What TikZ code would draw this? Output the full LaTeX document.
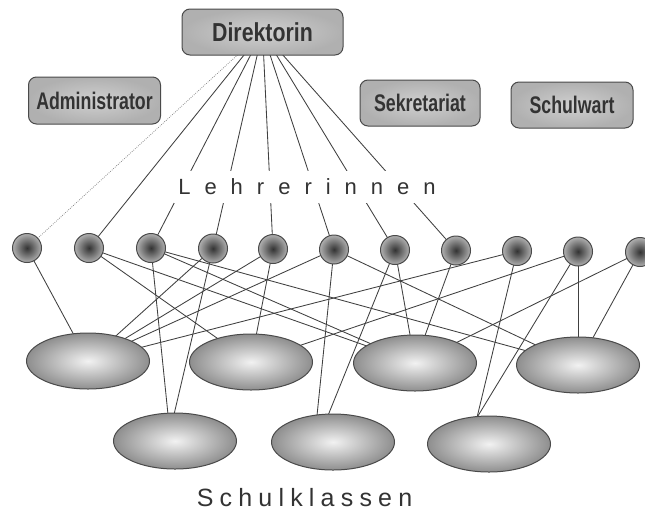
\documentclass[tikz,border=0pt]{standalone}
\usepackage{fontspec}
\usepackage{graphicx}
\setmainfont{Liberation Sans}
\usetikzlibrary{backgrounds,calc,shapes.geometric}
\definecolor{ink}{HTML}{333333}
\definecolor{edgecol}{HTML}{404040}
\definecolor{rim}{HTML}{4A4A4A}
\definecolor{boxin}{HTML}{D0D0D0}
\definecolor{boxout}{HTML}{B0B0B0}
\definecolor{circin}{HTML}{333333}
\definecolor{circout}{HTML}{B0B0B0}
\definecolor{ellin}{HTML}{F2F2F2}
\definecolor{ellout}{HTML}{8E8E8E}
\newcommand{\ls}{\hspace{14pt}}
\newcommand{\lt}{\hspace{6.2pt}}
\begin{document}
\begin{tikzpicture}[x=1pt,y=-1pt,
  box/.style={draw=rim, line width=1pt, rounded corners=8pt, inner color=boxin, outer color=boxout,
    minimum width=131pt, minimum height=46pt, inner sep=0pt, text=ink,
    font=\bfseries\fontsize{24}{24}\selectfont},
  bigbox/.style={box, minimum width=161pt, font=\bfseries\fontsize{26}{26}\selectfont},
  teacher/.style={circle, draw=rim, line width=1pt, minimum size=29pt, inner sep=0pt,
    inner color=circin, outer color=circout},
  klass/.style={ellipse, draw=rim, line width=1pt, minimum width=123pt, minimum height=56pt,
    inner sep=0pt, inner color=ellin, outer color=ellout},
  link/.style={draw=edgecol, line width=0.85pt},
  dotlink/.style={draw=gray, line width=0.7pt, dash pattern=on 0.8pt off 1.3pt},
  caption/.style={text=ink, font=\fontsize{22}{22}\selectfont}
]
\useasboundingbox (0,0) rectangle (645,512);

% boxes
\node[bigbox] (dir) at (262.5,32) {\scalebox{0.82}[1]{Direktorin}};
\node[box, minimum width=132pt, minimum height=47pt] (adm) at (94.5,100.5) {\scalebox{0.74}[1]{Administrator}};
\node[box, minimum width=120pt] (sek) at (420,103) {\scalebox{0.74}[1]{Sekretariat}};
\node[box, minimum width=122pt] (schw) at (572,105) {\scalebox{0.74}[1]{Schulwart}};

% label teachers
\node[caption, fill=white, minimum height=32pt, inner xsep=4pt] (lehr) at (307,187)
  {L\ls e\ls h\ls r\ls e\ls r\ls i\ls n\ls n\ls e\ls n};

% teachers
\node[teacher] (t1) at (27,248) {};
\node[teacher] (t2) at (89,248) {};
\node[teacher] (t3) at (151,248) {};
\node[teacher] (t4) at (213,248.5) {};
\node[teacher] (t5) at (273,249) {};
\node[teacher] (t6) at (334,249.5) {};
\node[teacher] (t7) at (395,250) {};
\node[teacher] (t8) at (456,250.5) {};
\node[teacher] (t9) at (517,251) {};
\node[teacher] (t10) at (578,251.5) {};
\node[teacher] (t11) at (640,252) {};

% classes
\node[klass] (u1) at (88,361) {};
\node[klass] (u2) at (251,362) {};
\node[klass] (u3) at (415,363) {};
\node[klass] (u4) at (578,365) {};
\node[klass] (l1) at (175,441) {};
\node[klass] (l2) at (333,442) {};
\node[klass] (l3) at (489,444) {};

\node[caption, font=\fontsize{25}{25}\selectfont] (klassen) at (304.5,498)
  {S\lt c\lt h\lt u\lt l\lt k\lt l\lt a\lt s\lt s\lt e\lt n};

\begin{pgfonlayer}{background}
  \fill[white] (0,0) rectangle (645,512);
  \draw[dotlink] (dir.center) -- (t1.center);
  \foreach \t in {t2,t3,t4,t5,t6,t7,t8} \draw[link] (dir.center) -- (\t.center);
  \foreach \a/\b in {t1/u1,t2/u2,t2/u3,t3/u3,t3/u4,t4/u1,t5/u1,t5/u2,t6/u1,t6/u4,
                     t7/u3,t8/u3,t9/u1,t10/u2,t10/u4,t11/u3,t11/u4}
    \draw[link] (\a.center) -- (\b.center);
  \draw[link] (t3.center) -- ($(l1.north)+(-7,2)$);
  \draw[link] (t4.center) -- ($(l1.north)+(-1,2)$);
  \draw[link] (t6.center) -- ($(l2.north)+(-16,2)$);
  \draw[link] (t7.center) -- ($(l2.north)+(-5,2)$);
  \draw[link] (t9.center) -- ($(l3.north)+(-12,2)$);
  \draw[link] (t10.center) -- ($(l3.north)+(-12,2)$);
\end{pgfonlayer}
\end{tikzpicture}
\end{document}
